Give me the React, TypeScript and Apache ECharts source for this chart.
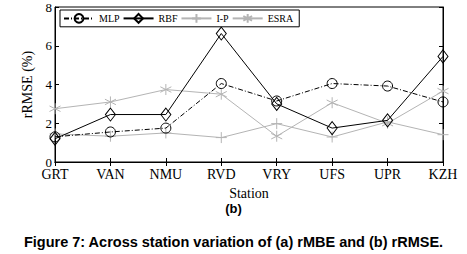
import React, { useEffect, useRef } from "react";
import * as echarts from "echarts";

const stations = ["GRT", "VAN", "NMU", "RVD", "VRY", "UFS", "UPR", "KZH"];
const mlp = [1.3, 1.55, 1.75, 4.05, 3.15, 4.05, 3.92, 3.1];
const rbf = [1.2, 2.45, 2.45, 6.63, 3.0, 1.75, 2.15, 5.45];
const ip = [1.45, 1.33, 1.5, 1.26, 1.98, 1.29, 2.07, 1.41];
const esra = [2.75, 3.1, 3.74, 3.5, 1.33, 3.06, 2.0, 3.66];

const GRAY = "#b4b4b4";
const SERIF = "Liberation Serif";
const ASTER = "path://M0,-6L0,6M-5.2,-3L5.2,3M-5.2,3L5.2,-3";
const PLUS = "path://M0,-6L0,6M-6,0L6,0";

export default function App() {
  const ref = useRef<HTMLDivElement>(null);
  useEffect(() => {
    const chart = echarts.init(ref.current!, null, { renderer: "svg" });
    chart.setOption({
      animation: false,
      backgroundColor: "#fff",
      title: [
        {
          text: "(b)",
          left: "center",
          top: 197,
          textStyle: { fontFamily: "Liberation Sans", fontWeight: "bold", fontSize: 13, color: "#000" },
        },
        {
          text: "Figure 7: Across station variation of (a) rMBE and (b) rRMSE.",
          left: "center",
          top: 229,
          textStyle: { fontFamily: "Liberation Sans", fontWeight: "bold", fontSize: 14.5, color: "#000" },
        },
      ],
      legend: {
        left: 60,
        top: 10,
        orient: "horizontal",
        backgroundColor: "#fff",
        borderColor: "#000",
        borderWidth: 1,
        borderRadius: 0,
        padding: [3, 6, 3, 3],
        itemWidth: 30,
        itemHeight: 11,
        itemGap: 3,
        textStyle: { fontFamily: SERIF, fontSize: 10, fontWeight: "normal", color: "#000" },
        data: ["MLP", "RBF", "I-P", "ESRA"],
      },
      grid: { left: 55, top: 7, width: 388, height: 155, show: true, borderColor: "#000", borderWidth: 1, containLabel: false },
      xAxis: [
        {
          type: "category",
          data: stations,
          boundaryGap: false,
          name: "Station",
          nameLocation: "middle",
          nameGap: 24,
          nameTextStyle: { fontFamily: SERIF, fontSize: 14, color: "#000" },
          axisLine: { lineStyle: { color: "#000" } },
          axisTick: { inside: true, length: 4, lineStyle: { color: "#000" } },
          axisLabel: { fontFamily: SERIF, fontSize: 14, color: "#000", margin: 5, interval: 0 },
          splitLine: { show: false },
        },
        {
          type: "category",
          data: stations,
          boundaryGap: false,
          position: "top",
          axisLine: { lineStyle: { color: "#000" } },
          axisTick: { inside: true, length: 4, lineStyle: { color: "#000" } },
          axisLabel: { show: false },
        },
      ],
      yAxis: [
        {
          type: "value",
          min: 0,
          max: 8,
          interval: 2,
          name: "rRMSE (%)",
          nameLocation: "middle",
          nameGap: 17,
          nameTextStyle: { fontFamily: SERIF, fontSize: 14, color: "#000" },
          axisLine: { show: true, lineStyle: { color: "#000" } },
          axisTick: { show: true, inside: true, length: 4, lineStyle: { color: "#000" } },
          axisLabel: { fontFamily: SERIF, fontSize: 13, color: "#000", margin: 3 },
          splitLine: { show: false },
        },
        {
          type: "value",
          min: 0,
          max: 8,
          interval: 2,
          position: "right",
          axisLine: { show: true, lineStyle: { color: "#000" } },
          axisTick: { show: true, inside: true, length: 4, lineStyle: { color: "#000" } },
          axisLabel: { show: false },
          splitLine: { show: false },
        },
      ],
      series: [
        {
          name: "I-P",
          type: "line",
          data: ip,
          symbol: PLUS,
          symbolSize: 11,
          lineStyle: { color: GRAY, width: 1 },
          itemStyle: { color: GRAY, borderColor: GRAY, borderWidth: 1 },
          z: 2,
        },
        {
          name: "ESRA",
          type: "line",
          data: esra,
          symbol: ASTER,
          symbolSize: 11,
          lineStyle: { color: GRAY, width: 1 },
          itemStyle: { color: GRAY, borderColor: GRAY, borderWidth: 1 },
          z: 2,
        },
        {
          name: "MLP",
          type: "line",
          data: mlp,
          symbol: "circle",
          symbolSize: 10,
          lineStyle: { color: "#000", width: 1, type: [5, 2, 1, 2] },
          itemStyle: { color: "transparent", borderColor: "#000", borderWidth: 1 },
          z: 3,
        },
        {
          name: "RBF",
          type: "line",
          data: rbf,
          symbol: "diamond",
          symbolSize: [10, 13],
          lineStyle: { color: "#000", width: 1 },
          itemStyle: { color: "transparent", borderColor: "#000", borderWidth: 1 },
          z: 3,
        },
      ],
    });
    return () => chart.dispose();
  }, []);
  return <div ref={ref} style={{ position: "fixed", left: 0, top: 0, width: 467, height: 254 }} />;
}
